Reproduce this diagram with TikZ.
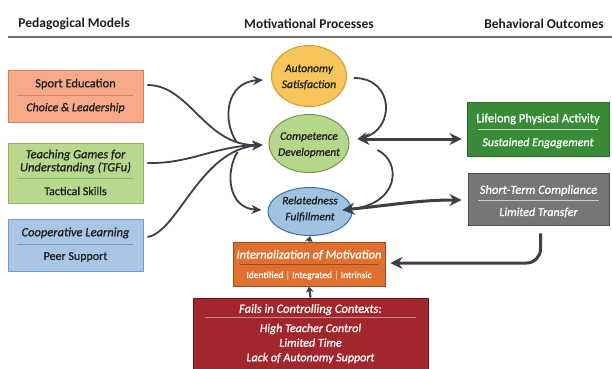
\documentclass[tikz,border=0pt]{standalone}
\usepackage{fontspec}
\setmainfont{Carlito}
\newfontfamily\medfont{Carlito}[FakeBold=1.0]
\usetikzlibrary{arrows.meta,shapes.geometric}
\definecolor{sefill}{HTML}{F7A98A}\definecolor{sedraw}{HTML}{D58263}
\definecolor{tgfill}{HTML}{B8D98D}\definecolor{tgdraw}{HTML}{8DB766}
\definecolor{clfill}{HTML}{A9C6E6}\definecolor{cldraw}{HTML}{7498C4}
\definecolor{aufill}{HTML}{F6C65B}\definecolor{audraw}{HTML}{D69A2E}
\definecolor{cofill}{HTML}{B6D68B}\definecolor{codraw}{HTML}{6F9A48}
\definecolor{refill}{HTML}{A0C3E4}\definecolor{redraw}{HTML}{3E6EA6}
\definecolor{llfill}{HTML}{3A8B38}\definecolor{lldraw}{HTML}{2B6A2A}
\definecolor{stfill}{HTML}{767676}\definecolor{stdraw}{HTML}{4C4C4C}
\definecolor{infill}{HTML}{E0702F}\definecolor{indraw}{HTML}{9E4A1C}
\definecolor{fafill}{HTML}{A2272D}\definecolor{fadraw}{HTML}{6E1418}
\definecolor{arr}{HTML}{3B4045}
\definecolor{ink}{HTML}{1E1E1E}
\begin{document}
\begin{tikzpicture}[x=1pt,y=-1pt,
  hdr/.style={font=\bfseries\fontsize{13.5}{15}\selectfont, text=ink, inner sep=0pt},
  boxs/.style={draw, line width=0.9pt, rectangle, inner sep=0pt},
  ell/.style={draw, line width=1pt, ellipse, inner sep=0pt},
  ttl/.style={font=\medfont\fontsize{12.5}{13}\selectfont, text=ink, inner sep=0pt, align=center},
  ttli/.style={font=\medfont\itshape\fontsize{12.5}{13}\selectfont, text=ink, inner sep=0pt, align=center},
  subu/.style={font=\medfont\fontsize{12}{13}\selectfont, text=ink, inner sep=0pt},
  subi/.style={font=\medfont\itshape\fontsize{12}{13}\selectfont, text=ink, inner sep=0pt},
  etxt/.style={font=\medfont\itshape\fontsize{11.5}{16}\selectfont, text=ink, inner sep=0pt, align=center},
  wtxt/.style={text=white, inner sep=0pt, align=center},
  divl/.style={line width=0.9pt},
  conn/.style={draw=arr, line width=1.8pt, -{Stealth[length=10pt,width=9pt]}},
  big/.style={draw=arr, line width=3pt, {Stealth[length=12pt,width=12pt]}-{Stealth[length=12pt,width=12pt]}},
  bigone/.style={draw=arr, line width=3pt, -{Stealth[length=12pt,width=12pt]}},
  small/.style={draw=arr, line width=2.2pt, -{Stealth[length=6pt,width=8pt]}}
]
\useasboundingbox (0,0) rectangle (612,368);
\fill[white] (0,0) rectangle (612,368);

% headers
\node[hdr] (h1) at (74,24) {Pedagogical Models};
\node[hdr] (h2) at (309,24) {Motivational Processes};
\node[hdr] (h3) at (544,24) {Behavioral Outcomes};
\draw[draw=black!55, line width=1.4pt] (8,37) -- (612,37);

% left boxes
\node[boxs, fill=sefill, draw=sedraw, minimum width=135pt, minimum height=52pt] (se) at (75.5,96) {};
\node[ttl] (se-t) at (75.5,84) {Sport Education};
\draw[divl, draw=sedraw] (17,95) -- (133,95);
\node[subi] (se-s) at (75.5,108) {Choice \& Leadership};

\node[boxs, fill=tgfill, draw=tgdraw, minimum width=135pt, minimum height=60pt] (tg) at (75.5,173) {};
\node[ttli] (tg-t) at (75.5,161.5) {Teaching Games for\\Understanding (TGFu)};
\draw[divl, draw=tgdraw] (17,178) -- (133,178);
\node[subu] (tg-s) at (75.5,191) {Tactical Skills};

\node[boxs, fill=clfill, draw=cldraw, minimum width=135pt, minimum height=52pt] (cl) at (75.5,245) {};
\node[ttli] (cl-t) at (75.5,233) {Cooperative Learning};
\draw[divl, draw=cldraw] (17,244) -- (133,244);
\node[subu] (cl-s) at (75.5,257) {Peer Support};

% ellipses
\node[ell, fill=aufill, draw=audraw, minimum width=75pt, minimum height=61pt] (aut) at (309,76) {};
\node[etxt] (aut-t) at (309,77) {Autonomy\\Satisfaction};
\node[ell, fill=cofill, draw=codraw, minimum width=80pt, minimum height=58pt] (comp) at (309,143.5) {};
\node[etxt] (comp-t) at (309,145) {Competence\\Development};
\node[ell, fill=refill, draw=redraw, minimum width=84pt, minimum height=48pt] (rel) at (310,211.5) {};
\node[etxt] (rel-t) at (310,209) {Relatedness\\Fulfillment};

% right boxes
\node[boxs, fill=llfill, draw=lldraw, minimum width=142pt, minimum height=54pt] (ll) at (538,129) {};
\node[wtxt, font=\medfont\fontsize{12.5}{13}\selectfont] (ll-t) at (538,119) {Lifelong Physical Activity};
\draw[divl, draw=white!70!llfill] (478,129) -- (598,129);
\node[wtxt, font=\medfont\itshape\fontsize{12}{13}\selectfont] (ll-s) at (538,143) {Sustained Engagement};

\node[boxs, fill=stfill, draw=stdraw, minimum width=141pt, minimum height=52pt] (st) at (538.5,199) {};
\node[wtxt, font=\medfont\itshape\fontsize{12.5}{13}\selectfont] (st-t) at (538.5,190.5) {Short-Term Compliance};
\draw[divl, draw=white!65!stfill] (478,200) -- (599,200);
\node[wtxt, font=\medfont\itshape\fontsize{12}{13}\selectfont] (st-s) at (538.5,212.5) {Limited Transfer};

% internalization
\node[boxs, fill=infill, draw=indraw, minimum width=152pt, minimum height=44pt] (int) at (309,264) {};
\node[wtxt, font=\medfont\itshape\fontsize{12.5}{13}\selectfont] (int-t) at (309,255) {Internalization of Motivation};
\draw[divl, draw=indraw] (240,264.5) -- (378,264.5);
\node[wtxt, font=\medfont\fontsize{9.5}{11}\selectfont] (int-s) at (309,275.5) {Identified \textcolor{white!60!infill}{|} Integrated \textcolor{white!60!infill}{|} Intrinsic};

% fails
\node[boxs, fill=fafill, draw=fadraw, minimum width=235pt, minimum height=76pt] (fa) at (310.5,336) {};
\node[wtxt, font=\medfont\itshape\fontsize{12.5}{13}\selectfont] (fa-t) at (310.5,309.5) {Fails in Controlling Contexts:};
\draw[divl, draw=white!45!fafill] (205,317.5) -- (416,317.5);
\node[wtxt, font=\medfont\itshape\fontsize{12}{14.6}\selectfont] (fa-s) at (310.5,343.5) {High Teacher Control\\Limited Time\\Lack of Autonomy Support};

% converging connectors
\coordinate (hub) at ([xshift=-6pt,yshift=-1.5pt]comp.west);
\draw[conn] ([xshift=4pt,yshift=11pt]se.east) .. controls (190,85) and (205,146) .. (hub);
\draw[conn] ([xshift=4pt,yshift=10pt]tg.east) .. controls (190,164) and (215,146) .. (hub);
\draw[conn] ([xshift=4pt,yshift=8pt]cl.east) .. controls (178,232) and (200,150) .. (hub);

\coordinate (au-start) at ([xshift=-26pt,yshift=3pt]hub);
\coordinate (re-start) at ([xshift=-25pt,yshift=-7pt]hub);
\draw[conn] (au-start) .. controls (222,120) and (226,82) .. ([xshift=-8pt,yshift=-4pt]aut.west);
\draw[conn] (re-start) .. controls (225,172) and (228,208) .. ([xshift=-6pt,yshift=1.5pt]rel.west);

% right-side loops
\draw[conn] ([xshift=7pt,yshift=-2pt]aut.east) .. controls (395,78) and (395,130) .. ([xshift=8pt,yshift=4.5pt]comp.east);
\coordinate (co-start) at ([xshift=28pt,yshift=-6.5pt]comp.east);
\draw[conn] (co-start) .. controls (402,162) and (400,205) .. ([xshift=-10pt,yshift=1.5pt]rel.east);

% outcome arrows
\draw[big] ([xshift=8pt,yshift=4.5pt]comp.east) -- ([xshift=-5pt,yshift=-10pt]ll.west);
\draw[big] ([xshift=-10pt,yshift=1.5pt]rel.east) .. controls (400,204) and (420,200) .. ([xshift=-6pt,yshift=-1pt]st.west);
\draw[bigone, rounded corners=14pt] ([xshift=2pt,yshift=-8pt]st.south) |- ([xshift=5pt,yshift=1pt]int.east);

% vertical arrows
\draw[small] (int.north) -- (rel.south);
\draw[small] (fa.north) -- (int.south);
\end{tikzpicture}
\end{document}
